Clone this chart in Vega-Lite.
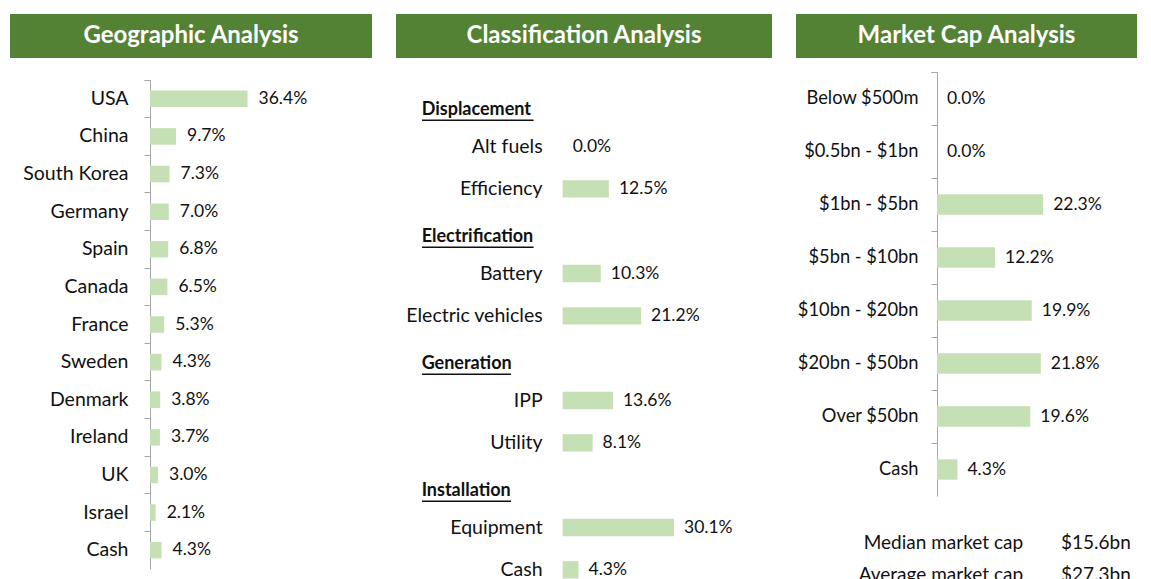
{
  "$schema": "https://vega.github.io/schema/vega-lite/v6.json",
  "padding": {"left": 10, "top": 14, "right": 0, "bottom": 0},
  "background": "white",
  "config": {
    "view": {"stroke": null},
    "font": "Lato",
    "text": {"font": "Lato", "fontSize": 17.5, "color": "#111111"},
    "axis": {"labelFont": "Lato", "labelFontSize": 19.5, "labelColor": "#111111"}
  },
  "spacing": 24,
  "hconcat": [
    {
      "spacing": 22,
      "bounds": "flush",
      "vconcat": [
        {
          "width": 362, "height": 44,
          "data": {"values": [{"title": "Geographic Analysis"}]},
          "layer": [
            {"mark": {"type": "rect", "color": "#548235"}, "encoding": {}},
            {"mark": {"type": "text", "color": "white", "fontWeight": "bold", "fontSize": 24, "baseline": "middle", "align": "center"}, "encoding": {"text": {"field": "title"}}}
          ]
        },
        {
          "width": 362, "height": 489,
          "data": {"values": [
            {"label": "USA", "share": 0.364},
            {"label": "China", "share": 0.097},
            {"label": "South Korea", "share": 0.073},
            {"label": "Germany", "share": 0.070},
            {"label": "Spain", "share": 0.068},
            {"label": "Canada", "share": 0.065},
            {"label": "France", "share": 0.053},
            {"label": "Sweden", "share": 0.043},
            {"label": "Denmark", "share": 0.038},
            {"label": "Ireland", "share": 0.037},
            {"label": "UK", "share": 0.030},
            {"label": "Israel", "share": 0.021},
            {"label": "Cash", "share": 0.043}
          ]},
          "encoding": {
            "y": {"field": "label", "type": "nominal", "sort": null,
                  "scale": {"paddingInner": 0, "paddingOuter": 0},
                  "axis": {"orient": "left", "offset": -140, "title": null, "bandPosition": 0, "tickExtra": true,
                           "domainColor": "#a6a6a6", "tickColor": "#a6a6a6", "tickSize": 6, "labelPadding": 16, "labelLimit": 300}}
          },
          "layer": [
            {"mark": {"type": "bar", "color": "#c5e0b4", "height": {"band": 0.44}},
             "encoding": {"x": {"field": "share", "type": "quantitative", "scale": {"domain": [-0.5224, 0.8284], "nice": false, "zero": false}, "axis": null}}},
            {"mark": {"type": "text", "align": "left", "dx": 11, "baseline": "middle"},
             "encoding": {"x": {"field": "share", "type": "quantitative"}, "text": {"field": "share", "format": ".1%"}}}
          ]
        }
      ]
    },
    {
      "spacing": 25,
      "bounds": "flush",
      "vconcat": [
        {
          "width": 376, "height": 44,
          "data": {"values": [{"title": "Classification Analysis"}]},
          "layer": [
            {"mark": {"type": "rect", "color": "#548235"}, "encoding": {}},
            {"mark": {"type": "text", "color": "white", "fontWeight": "bold", "fontSize": 24, "baseline": "middle", "align": "center"}, "encoding": {"text": {"field": "title"}}}
          ]
        },
        {
          "width": 376, "height": 508,
          "data": {"values": [
            {"label": "Displacement", "kind": "header", "share": null},
            {"label": "Alt fuels", "kind": "item", "share": 0.0},
            {"label": "Efficiency", "kind": "item", "share": 0.125},
            {"label": "Electrification", "kind": "header", "share": null},
            {"label": "Battery", "kind": "item", "share": 0.103},
            {"label": "Electric vehicles", "kind": "item", "share": 0.212},
            {"label": "Generation", "kind": "header", "share": null},
            {"label": "IPP", "kind": "item", "share": 0.136},
            {"label": "Utility", "kind": "item", "share": 0.081},
            {"label": "Installation", "kind": "header", "share": null},
            {"label": "Equipment", "kind": "item", "share": 0.301},
            {"label": "Cash", "kind": "item", "share": 0.043}
          ]},
          "encoding": {
            "y": {"field": "label", "type": "nominal",
                  "scale": {"type": "band", "domain": ["Displacement", "Alt fuels", "Efficiency", "Electrification", "Battery", "Electric vehicles", "Generation", "IPP", "Utility", "Installation", "Equipment", "Cash"], "paddingInner": 0, "paddingOuter": 0},
                  "axis": null}
          },
          "layer": [
            {"transform": [{"filter": "datum.kind === 'item'"}],
             "mark": {"type": "bar", "color": "#c5e0b4", "height": {"band": 0.41}},
             "encoding": {"x": {"field": "share", "type": "quantitative", "scale": {"domain": [-0.4505, 0.566], "nice": false, "zero": false}, "axis": null}}},
            {"transform": [{"filter": "datum.kind === 'item'"}],
             "mark": {"type": "text", "align": "left", "dx": 10, "baseline": "middle"},
             "encoding": {"x": {"field": "share", "type": "quantitative"}, "text": {"field": "share", "format": ".1%"}}},
            {"transform": [{"filter": "datum.kind === 'item'"}],
             "mark": {"type": "text", "align": "right", "dx": -20, "baseline": "middle", "fontSize": 19.5},
             "encoding": {"x": {"datum": 0, "type": "quantitative"}, "text": {"field": "label"}}},
            {"transform": [{"filter": "datum.kind === 'header'"}],
             "mark": {"type": "text", "align": "left", "dx": -141, "dy": 6, "baseline": "middle", "fontWeight": "bold", "fontSize": 18},
             "encoding": {"x": {"datum": 0, "type": "quantitative"}, "text": {"field": "label"}}},
            {"transform": [{"filter": "datum.label === 'Displacement' || datum.label === 'Electrification'"}],
             "mark": {"type": "rule", "color": "#111111", "strokeWidth": 1.5, "yOffset": 16},
             "encoding": {"x": {"datum": -0.3802, "type": "quantitative"}, "x2": {"datum": -0.0785}}},
            {"transform": [{"filter": "datum.label === 'Generation' || datum.label === 'Installation'"}],
             "mark": {"type": "rule", "color": "#111111", "strokeWidth": 1.5, "yOffset": 16},
             "encoding": {"x": {"datum": -0.3802, "type": "quantitative"}, "x2": {"datum": -0.1395}}}
          ]
        }
      ]
    },
    {
      "spacing": 14,
      "bounds": "flush",
      "vconcat": [
        {
          "width": 341, "height": 44,
          "data": {"values": [{"title": "Market Cap Analysis"}]},
          "layer": [
            {"mark": {"type": "rect", "color": "#548235"}, "encoding": {}},
            {"mark": {"type": "text", "color": "white", "fontWeight": "bold", "fontSize": 24, "baseline": "middle", "align": "center"}, "encoding": {"text": {"field": "title"}}}
          ]
        },
        {
          "width": 341, "height": 424,
          "data": {"values": [
            {"label": "Below $500m", "share": 0.0},
            {"label": "$0.5bn - $1bn", "share": 0.0},
            {"label": "$1bn - $5bn", "share": 0.223},
            {"label": "$5bn - $10bn", "share": 0.122},
            {"label": "$10bn - $20bn", "share": 0.199},
            {"label": "$20bn - $50bn", "share": 0.218},
            {"label": "Over $50bn", "share": 0.196},
            {"label": "Cash", "share": 0.043}
          ]},
          "encoding": {
            "y": {"field": "label", "type": "nominal", "sort": null,
                  "scale": {"paddingInner": 0, "paddingOuter": 0},
                  "axis": {"orient": "left", "offset": -141, "title": null, "bandPosition": 0, "tickExtra": true,
                           "domainColor": "#a6a6a6", "tickColor": "#a6a6a6", "tickSize": 6, "labelPadding": 13, "labelLimit": 300, "labelFontSize": 18.3}}
          },
          "layer": [
            {"mark": {"type": "bar", "color": "#c5e0b4", "height": {"band": 0.385}},
             "encoding": {"x": {"field": "share", "type": "quantitative", "scale": {"domain": [-0.296, 0.42], "nice": false, "zero": false}, "axis": null}}},
            {"mark": {"type": "text", "align": "left", "dx": 10, "baseline": "middle"},
             "encoding": {"x": {"field": "share", "type": "quantitative"}, "text": {"field": "share", "format": ".1%"}}}
          ]
        },
        {
          "width": 341, "height": 98,
          "data": {"values": [
            {"stat": "Median market cap", "amount": "$15.6bn"},
            {"stat": "Average market cap", "amount": "$27.3bn"}
          ]},
          "encoding": {
            "y": {"field": "stat", "type": "nominal", "sort": null, "scale": {"type": "band", "paddingInner": 0, "paddingOuter": 0.53}, "axis": null}
          },
          "layer": [
            {"mark": {"type": "text", "align": "right", "baseline": "middle", "fontSize": 19},
             "encoding": {"x": {"datum": 0.666, "type": "quantitative", "scale": {"domain": [0, 1], "nice": false}, "axis": null}, "text": {"field": "stat"}}},
            {"mark": {"type": "text", "align": "right", "baseline": "middle", "fontSize": 19},
             "encoding": {"x": {"datum": 0.982, "type": "quantitative"}, "text": {"field": "amount"}}}
          ]
        }
      ]
    }
  ]
}
